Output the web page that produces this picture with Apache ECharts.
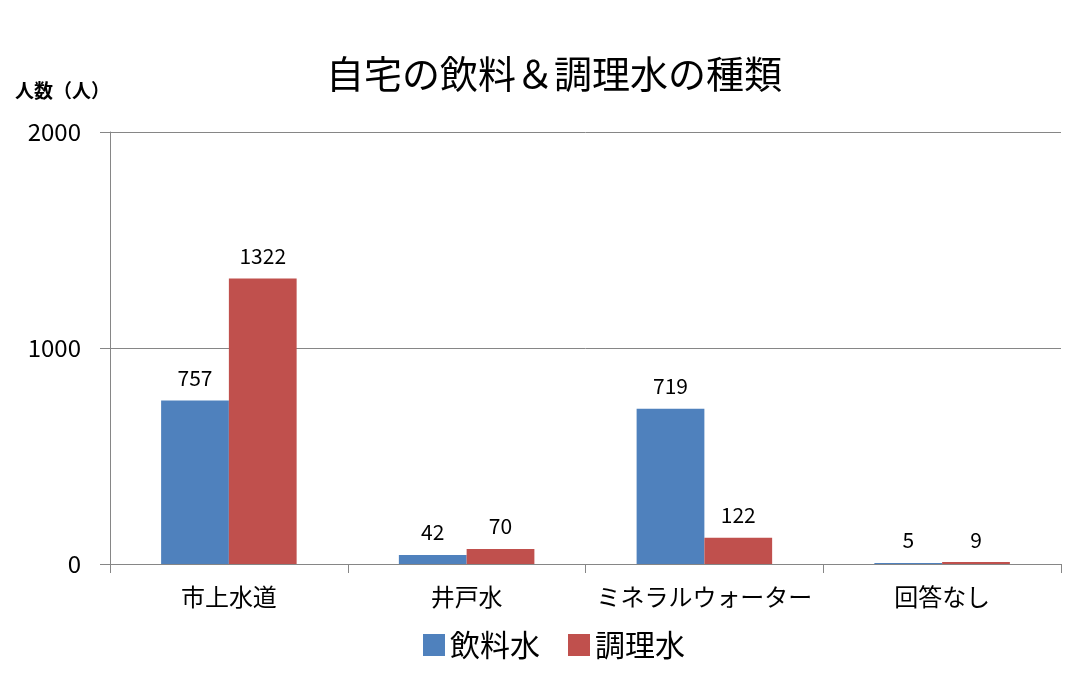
<!DOCTYPE html>
<html>
<head>
<meta charset="utf-8">
<script src="https://cdn.jsdelivr.net/npm/echarts@6/dist/echarts.min.js"></script>
<style>
  html, body { margin: 0; padding: 0; background: #fff; }
  #main { width: 1077px; height: 673px; }
</style>
</head>
<body>
<div id="main"></div>
<script>
// データ
var categories = ['市上水道', '井戸水', 'ミネラルウォーター', '回答なし'];
var drinkWater = [757, 42, 719, 5];
var cookWater = [1322, 70, 122, 9];
var seriesNames = ['飲料水', '調理水'];

var font = '"Noto Sans CJK JP", "Noto Sans", sans-serif';
var echart = echarts.init(document.getElementById('main'));

var option = {
    animation: false,
    textStyle: {fontFamily: font},
    title: {
        text: '自宅の飲料＆調理水の種類',
        left: 549,
        textAlign: 'center',
        top: 50,
        textStyle: {fontSize: 38, fontWeight: 'normal', color: '#000', fontFamily: font}
    },
    legend: {
        data: seriesNames,
        left: 418,
        top: 625,
        itemWidth: 22,
        itemHeight: 22,
        itemGap: 28,
        icon: 'rect',
        textStyle: {fontSize: 30, color: '#000', fontFamily: font}
    },
    grid: {
        left: 110,
        right: 16,
        top: 132,
        bottom: 109
    },
    xAxis: {
        type: 'category',
        data: categories,
        axisLine: {lineStyle: {color: '#868686'}},
        axisTick: {show: true, length: 9, lineStyle: {color: '#868686'}},
        axisLabel: {interval: 0, fontSize: 24, color: '#000', margin: 21, fontFamily: font}
    },
    yAxis: {
        type: 'value',
        min: 0,
        max: 2000,
        interval: 1000,
        name: '人数（人）',
        nameLocation: 'end',
        nameGap: 32,
        nameTextStyle: {fontSize: 19, fontWeight: 'bold', color: '#000', align: 'left', padding: [0, 0, 0, -95]},
        axisLine: {show: true, lineStyle: {color: '#868686'}},
        axisTick: {show: true, length: 10, lineStyle: {color: '#868686'}},
        axisLabel: {fontSize: 24, color: '#000', margin: 29, fontFamily: font,
            formatter: function (v) { return String(v); }},
        splitLine: {lineStyle: {color: '#868686'}}
    },
    series: [
        {
            name: seriesNames[0],
            type: 'bar',
            data: drinkWater,
            barGap: '0%',
            barCategoryGap: '43%',
            itemStyle: {color: '#4F81BD'},
            label: {show: true, position: 'top', distance: 12, fontSize: 21, color: '#000'}
        },
        {
            name: seriesNames[1],
            type: 'bar',
            data: cookWater,
            itemStyle: {color: '#C0504D'},
            label: {show: true, position: 'top', distance: 12, fontSize: 21, color: '#000'}
        }
    ]
};
echart.setOption(option);
</script>
</body>
</html>
